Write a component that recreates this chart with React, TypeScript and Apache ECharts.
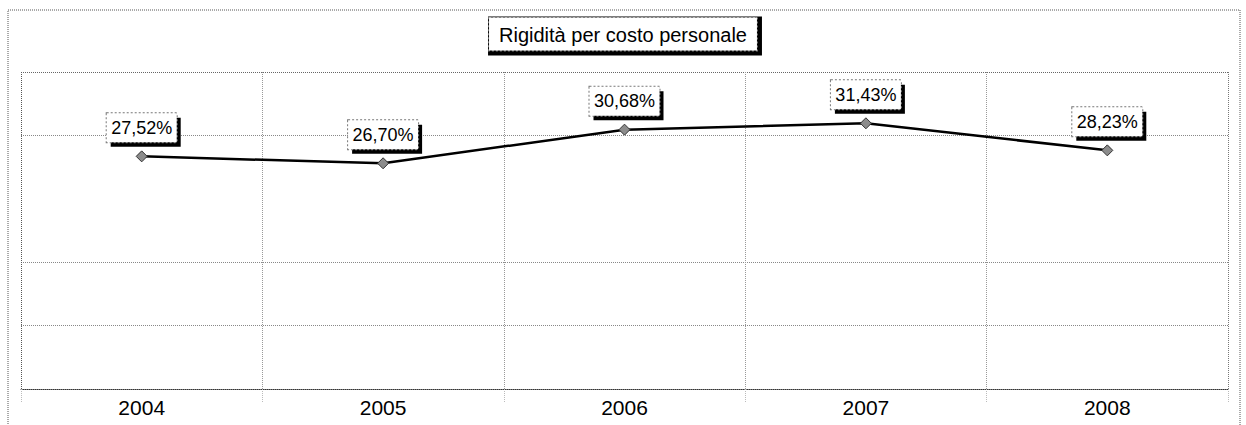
import React, { useEffect, useRef } from "react";
import * as echarts from "echarts";

const titleText = "Rigidità per costo personale";
const categories = ["2004", "2005", "2006", "2007", "2008"];
const values = [27.52, 26.7, 30.68, 31.43, 28.23];
const yMin = 0;
const yMax = 37.5;
const yInterval = 7.5;

export default function App() {
  const ref = useRef<HTMLDivElement>(null);
  useEffect(() => {
    if (!ref.current) return;
    const chart = echarts.init(ref.current, null, { renderer: "svg" });
    const font = "Liberation Sans, Arial, sans-serif";
    const fmt = (p: any) => "{a|" + p.value.toFixed(2).replace(".", ",") + "%}";
    const boxW = 62;
    const boxH = 17;
    chart.setOption({
      animation: false,
      backgroundColor: "#ffffff",
      title: {
        text: "{b|" + titleText + "}",
        left: "center",
        top: 24,
        padding: [0, 4, 4, 0],
        backgroundColor: "#000",
        textStyle: {
          rich: {
            b: {
              fontFamily: font,
              fontSize: 20,
              fontWeight: "normal",
              lineHeight: 20,
              color: "#000",
              backgroundColor: "#fff",
              borderColor: "#777",
              borderWidth: 1,
              borderType: "dotted",
              padding: [7, 10, 6, 10],
            },
          },
        },
      },
      graphic: [
        {
          type: "rect",
          shape: { x: 8, y: 10, width: 1232, height: 430 },
          style: { fill: "none", stroke: "#555", lineWidth: 1, lineDash: [1, 1] },
          silent: true,
          z: -1,
        },
      ],
      grid: { left: 21, right: 18, top: 72, bottom: 36, containLabel: false },
      xAxis: {
        type: "category",
        data: categories,
        boundaryGap: true,
        axisLine: { show: true, lineStyle: { color: "#333", width: 1, type: "dotted" } },
        axisTick: { show: true, length: 14, lineStyle: { color: "#bbb", type: "dotted" } },
        axisLabel: { fontFamily: font, fontSize: 21, color: "#000", margin: 8 },
        splitLine: {
          show: true,
          showMinLine: true,
          showMaxLine: true,
          lineStyle: {
            color: ["#555", "#999", "#999", "#999", "#999", "#777"],
            type: "dotted",
            width: 1,
          },
        },
      },
      yAxis: {
        type: "value",
        min: yMin,
        max: yMax,
        interval: yInterval,
        axisLabel: { show: false },
        axisLine: { show: false },
        axisTick: { show: false },
        splitLine: {
          show: true,
          showMinLine: true,
          showMaxLine: true,
          lineStyle: {
            color: ["#555", "#888", "#888", "rgba(0,0,0,0)", "#888", "#666"],
            type: "dotted",
            width: 1,
          },
        },
      },
      series: [
        {
          type: "line",
          data: values,
          symbol: "circle",
          symbolSize: 11,
          silent: true,
          z: 1,
          itemStyle: { color: "rgba(0,0,0,0)", borderWidth: 0 },
          lineStyle: { width: 0, color: "rgba(0,0,0,0)" },
          label: {
            show: true,
            position: "top",
            distance: 14,
            offset: [4, 4],
            formatter: "{s| }",
            rich: {
              s: {
                width: boxW,
                height: boxH,
                fontSize: 18,
                lineHeight: 17,
                padding: [6, 4, 6, 4],
                backgroundColor: "#000",
              },
            },
          },
        },
        {
          type: "line",
          data: values,
          symbol: "diamond",
          symbolSize: 11,
          z: 2,
          itemStyle: { color: "#8c8c8c", borderColor: "#333", borderWidth: 1 },
          lineStyle: { color: "#000", width: 2.5 },
          label: {
            show: true,
            position: "top",
            distance: 14,
            formatter: fmt,
            rich: {
              a: {
                width: boxW,
                height: boxH,
                align: "center",
                fontFamily: font,
                fontSize: 18,
                lineHeight: 17,
                color: "#000",
                padding: [6, 4, 6, 4],
                backgroundColor: "#fff",
                borderColor: "#777",
                borderWidth: 1,
                borderType: "dotted",
              },
            },
          },
        },
      ],
    });
    return () => chart.dispose();
  }, []);
  return (
    <div
      ref={ref}
      style={{ position: "absolute", left: 0, top: 0, width: 1246, height: 425 }}
    />
  );
}
